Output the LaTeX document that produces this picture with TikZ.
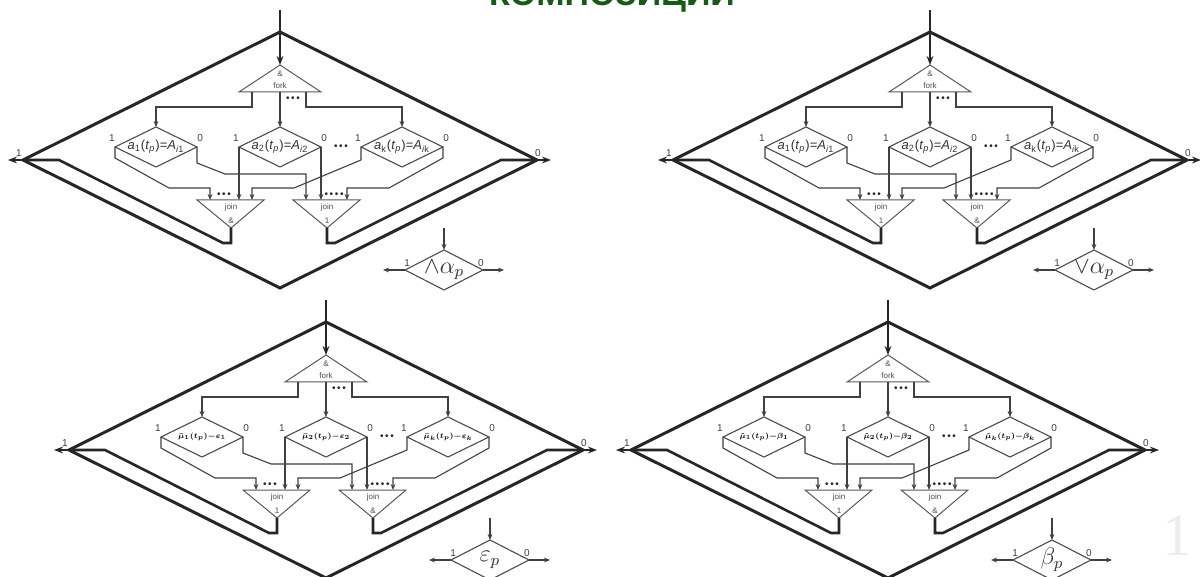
\documentclass[tikz,border=0pt]{standalone}
\usepackage{fontspec}
\setmainfont{Liberation Sans}
\newfontfamily\seriffont{Liberation Serif}
\usetikzlibrary{shapes.geometric,arrows.meta}
\definecolor{titlegreen}{HTML}{175A17}
\tikzset{
  outer/.style={diamond,draw,line width=1.5pt,black!85,minimum width=257pt,
    minimum height=128pt,inner sep=0pt,outer sep=0pt},
  outline/.style={line width=1.3pt,black!85,line join=miter},
  cond/.style={diamond,draw,line width=0.55pt,black!70,minimum width=41pt,
    minimum height=20pt,inner sep=0pt,outer sep=0pt},
  gate/.style={line width=0.5pt,black!65},
  conn/.style={line width=0.55pt,black!75,-{Stealth[length=3pt,width=2.4pt]}},
  flow/.style={line width=1pt,black!85,-{Stealth[length=4.5pt,width=3.4pt]}},
  tiny/.style={font=\fontsize{4}{4}\selectfont,text=black!70,inner sep=0pt},
  pin/.style={font=\fontsize{5}{5}\selectfont,text=black!75,inner sep=0.5pt},
  dots/.style={font=\fontsize{5}{5}\selectfont,text=black!85,inner sep=0pt},
  formula/.style={font=\fontsize{6.5}{6.5}\selectfont,text=black!80,inner sep=0pt},
}
% #1 prefix, #2 centre, #3/#4 join labels, #5-#7 conditions, #8 legend
\newcommand\panel[8]{%
\begin{scope}[shift={(#2)}]
  \node[outer] (#1big) at (0,0) {};
  \coordinate (#1in) at (0,-150);
  % fork
  \draw[gate] (0,-95) coordinate (#1fa) -- (41,-68) -- (-41,-68) -- cycle;
  \node[tiny] at (0,-86) {\&};
  \node[tiny] at (0,-74) {fork};
  \coordinate (#1fo1) at (-28,-68);
  \coordinate (#1fo2) at (0,-68);
  \coordinate (#1fo3) at (26,-68);
  \node[dots] at (13,-61) {\textbullet\,\textbullet\,\textbullet};
  % conditions
  \node[cond] (#1d1) at (-124,-13) {};
  \node[cond] (#1d2) at (0,-13) {};
  \node[cond] (#1d3) at (122,-13) {};
  \node[formula] at (#1d1) {#5};
  \node[formula] at (#1d2) {#6};
  \node[formula] at (#1d3) {#7};
  \node[dots] at (61,-13) {\textbullet\,\textbullet\,\textbullet};
  \foreach \d in {d1,d2,d3} {
    \node[pin,anchor=south east] at ([shift={(1,-4)}]#1\d.west) {1};
    \node[pin,anchor=south west] at ([shift={(-1,-4)}]#1\d.east) {0};
  }
  % joins
  \draw[gate] (-83,40) -- (-16,40) -- (-49,68) coordinate (#1j1o) -- cycle;
  \draw[gate] (13,40) -- (80,40) -- (47,68) coordinate (#1j2o) -- cycle;
  \node[tiny] at (-49,47) {join};
  \node[tiny] at (-49,61) {#3};
  \node[tiny] at (47,47) {join};
  \node[tiny] at (47,61) {#4};
  \coordinate (#1j1a) at (-70,40);
  \coordinate (#1j1b) at (-41,40);
  \coordinate (#1j1c) at (-28,40);
  \coordinate (#1j2a) at (26,40);
  \coordinate (#1j2b) at (41,40);
  \coordinate (#1j2c) at (67,40);
  \node[dots] at (-56,35) {\textbullet\,\textbullet\,\textbullet};
  \node[dots] at (54,35) {\textbullet\,\textbullet\,\textbullet\,\textbullet};
  % wiring
  \draw[flow] (#1in) -- (#1fa);
  \draw[conn] (#1fo1) -- ++(0,15) -| (#1d1.north);
  \draw[conn] (#1fo2) -- (#1d2.north);
  \draw[conn] (#1fo3) -- ++(0,15) -| (#1d3.north);
  \draw[conn] (#1d1.west) -- ++(0,11) -- ++(54,30) -| (#1j1a);
  \draw[conn] (#1d1.east) -- ++(0,16) -- ++(28,11) -| (#1j2a);
  \draw[conn] (#1d2.west) -- (#1j1b);
  \draw[conn] (#1d2.east) -- (#1j2b);
  \draw[conn] (#1d3.west) -- ++(0,13) -- ++(-67,28) -| (#1j1c);
  \draw[conn] (#1d3.east) -- ++(0,11) -- ++(-54,30) -| (#1j2c);
  % outputs
  \draw[outline] (#1big.west) -- (-221,0) -- (-57,83) -- (-49,83) -- (#1j1o);
  \draw[outline] (#1j2o) -- (47,83) -- (55,83) -- (221,0) -- (#1big.east);
  \draw[flow] (#1big.west) -- ++(-15,0);
  \draw[flow] (#1big.east) -- ++(14,0);
  \node[pin,anchor=south] at (-261,-2) {1};
  \node[pin,anchor=south] at (258,-2) {0};
  % legend
  \node[cond,minimum width=39pt] (#1leg) at (164,110) {};
  \node[font=\fontsize{12}{12}\selectfont,text=black!80,inner sep=0pt] at (#1leg) {#8};
  \coordinate (#1lin) at (164,68);
  \draw[conn] (#1lin) -- (#1leg.north);
  \draw[conn] (#1leg.west) -- ++(-22,0);
  \draw[conn] (#1leg.east) -- ++(21,0);
  \node[pin,anchor=south west] at ([shift={(-2,-2)}]#1leg.west) {1};
  \node[pin,anchor=south east] at ([shift={(2,-2)}]#1leg.east) {0};
\end{scope}}
\newcommand\acond[2]{\textit{a}\textsubscript{#1}(\textit{t}\textsubscript{\textit{p}})=\textit{A}\textsubscript{\textit{i}#2}}
\newcommand\econd[1]{\color{black}\scalebox{0.62}{\boldmath$\bar{\mu}_{#1}(t_p){-}\varepsilon_{#1}$}}
\newcommand\bcond[1]{\color{black}\scalebox{0.62}{\boldmath$\hat{\mu}_{#1}(t_p){-}\beta_{#1}$}}
\begin{document}
\begin{tikzpicture}[x=0.5pt,y=-0.5pt]
\clip (0,0) rectangle (1200,577);
\fill[white] (0,0) rectangle (1200,577);
\node[font=\fontsize{17}{17}\selectfont\bfseries,text=titlegreen,anchor=base] (title) at (612,6) {КОМПОЗИЦИИ};
\panel{tl}{280,160}{\&}{1}{\acond{1}{1}}{\acond{2}{2}}{\acond{k}{k}}{$\wedge\alpha_p$}
\panel{tr}{930,160}{1}{\&}{\acond{1}{1}}{\acond{2}{2}}{\acond{k}{k}}{$\vee\alpha_p$}
\panel{bl}{326,450}{1}{\&}{\econd{1}}{\econd{2}}{\econd{k}}{$\varepsilon_p$}
\panel{br}{888,450}{1}{\&}{\bcond{1}}{\bcond{2}}{\bcond{k}}{$\beta_p$}
\node[font=\seriffont\fontsize{30}{30}\selectfont,text=black!7,anchor=base] (pageno) at (1177,555) {1};
\end{tikzpicture}
\end{document}
